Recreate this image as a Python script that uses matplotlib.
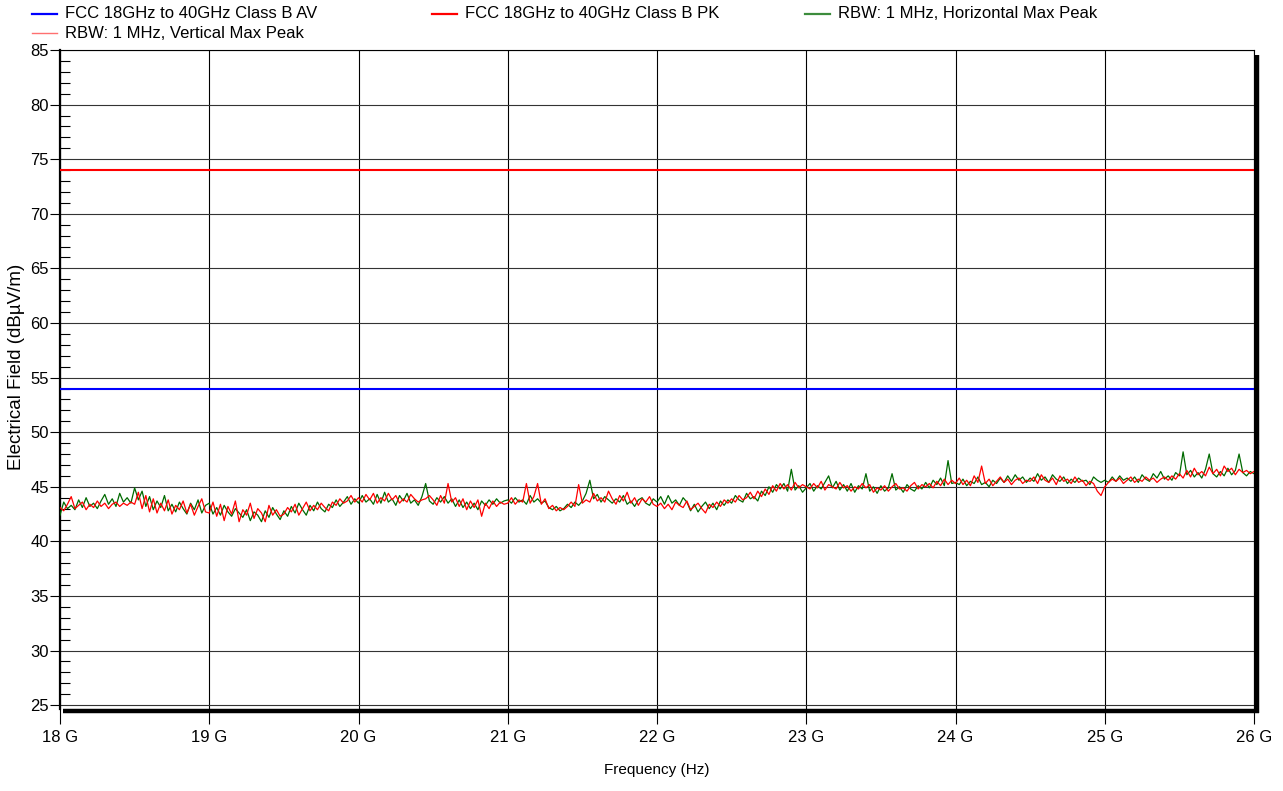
import numpy as np
import matplotlib
matplotlib.use("Agg")
import matplotlib.pyplot as plt
from matplotlib.lines import Line2D
from matplotlib.ticker import MultipleLocator, FuncFormatter

plt.rcParams["font.family"] = ["Liberation Sans", "DejaVu Sans"]

# Sweep: 18 GHz to 26 GHz, one reading every 25 MHz
freq_start_ghz = 18.0
freq_step_ghz = 0.025

# Limits (dBuV/m)
limit_av = 54.0
limit_pk = 74.0

# Measured max-peak traces (dBuV/m)
horizontal_peak = [
    42.4, 43.6, 43.0, 43.3, 42.9, 43.8, 43.1, 44.0, 43.2, 43.5, 43.0, 43.7, 44.3, 43.4, 43.9, 43.2, 44.4, 43.6, 44.0, 43.5,
    44.9, 43.8, 44.6, 43.2, 44.1, 42.9, 43.7, 43.1, 44.2, 42.8, 43.4, 42.7, 43.6, 43.0, 42.5, 43.5, 42.9, 43.8, 42.6, 43.3,
    43.5, 42.5, 43.1, 42.4, 43.3, 42.7, 42.3, 43.0, 42.6, 42.2, 42.9, 41.9, 42.7, 42.4, 41.8, 42.8, 42.2, 43.1, 42.5, 42.0,
    42.8, 42.3, 43.2, 42.6, 43.5, 42.9, 42.4, 43.3, 42.8, 43.6, 43.0, 42.7, 43.4, 43.1, 43.8, 43.2, 43.6, 44.1, 43.4, 43.9,
    43.5, 44.2, 43.6, 43.9, 43.4, 44.3, 43.5, 44.5, 43.6, 43.9, 43.3, 44.2, 43.7, 44.4, 43.5, 43.8, 43.3, 44.1, 45.3, 43.7,
    43.4, 44.0, 43.6, 44.1, 43.5, 43.9, 43.2, 43.8, 43.1, 43.6, 43.0, 43.5, 42.9, 43.7, 43.3, 43.8, 43.4, 43.9, 43.5, 43.7,
    43.8, 43.5, 44.0, 43.6, 43.8, 43.4, 44.2, 43.6, 43.9, 43.5, 43.7, 43.1, 42.9, 43.2, 42.8, 43.0, 43.4, 43.1, 43.6, 43.3,
    43.7, 44.4, 45.6, 43.9, 44.3, 43.6, 44.1, 43.8, 43.5, 43.9, 43.6, 44.2, 43.4, 43.7, 43.2, 43.8, 44.0, 43.5, 43.3, 43.9,
    43.6, 44.1, 43.4, 44.2, 43.5, 43.8, 43.3, 44.0, 43.6, 42.8, 43.4, 42.7, 43.2, 43.6, 43.0, 43.5, 42.9, 43.7, 43.3, 43.8,
    43.5, 44.2, 43.8, 43.6, 44.4, 43.9, 44.1, 43.7, 44.6, 44.2, 45.0, 44.5, 45.2, 44.8, 45.3, 44.6, 46.6, 44.7, 45.1, 44.5,
    44.9, 45.3, 44.6, 45.1, 44.8, 45.4, 46.0, 44.9, 45.5, 44.7, 45.2, 44.6, 45.3, 44.5, 45.1, 44.8, 46.2, 44.6, 45.0, 44.4,
    45.1, 44.6, 44.9, 46.2, 44.7, 45.0, 44.5, 45.2, 44.8, 44.6, 45.1, 44.8, 45.4, 44.9, 45.6, 45.2, 45.8, 45.1, 47.4, 45.3,
    45.4, 45.2, 45.7, 45.1, 45.5, 45.3, 45.9, 45.2, 45.4, 45.0, 45.6, 45.3, 45.8, 45.4, 46.0, 45.5, 46.1, 45.6, 45.9, 45.4,
    45.8, 45.5, 46.2, 45.6, 45.9, 45.4, 46.1, 45.7, 45.5, 45.9, 45.3, 45.7, 45.4, 45.8, 45.5, 45.6, 45.2, 45.9, 45.6, 45.4,
    45.6, 45.4, 45.9, 45.5, 46.0, 45.6, 45.8, 45.5, 45.9, 45.4, 46.1, 45.7, 45.5, 46.2, 45.8, 46.4, 45.7, 46.0, 45.6, 46.3,
    46.0, 48.2, 46.1, 46.5, 45.9, 46.3, 45.8, 46.6, 48.0, 46.2, 45.9, 46.4, 46.0, 46.7, 46.1, 46.5, 48.0, 46.3, 46.0, 46.4,
    46.2,
]

vertical_peak = [
    43.1, 42.8, 43.4, 44.1, 43.0, 43.3, 43.6, 42.9, 43.4, 43.1, 43.7, 43.2, 43.5, 43.0, 43.4, 43.6, 43.2, 43.5, 43.3, 43.6,
    43.4, 44.5, 43.0, 44.2, 42.7, 43.9, 42.6, 43.5, 42.8, 43.8, 42.5, 43.3, 42.9, 43.7, 42.6, 43.4, 42.4, 43.2, 43.9, 42.7,
    42.6, 43.6, 42.3, 43.4, 41.9, 43.2, 42.5, 43.7, 41.8, 42.9, 42.4, 43.5, 42.1, 43.0, 42.6, 41.8, 43.3, 42.4, 42.9, 42.3,
    42.5, 43.1, 42.7, 43.4, 42.4, 43.0, 43.6, 42.8, 43.3, 42.9, 43.5, 43.1, 42.8, 43.6, 43.3, 43.9, 43.5, 43.7, 44.2, 43.6,
    44.0, 43.6, 44.3, 43.8, 44.4, 43.5, 44.0, 43.7, 44.4, 43.8, 44.2, 43.5, 43.9, 43.6, 44.3, 43.9, 43.6, 43.8, 43.9, 44.2,
    43.8, 43.3, 44.2, 43.5, 45.3, 43.6, 44.0, 43.2, 43.9, 42.9, 43.7, 43.1, 43.8, 42.3, 43.5, 43.0, 43.7, 43.2, 43.6, 43.4,
    43.5, 44.0, 43.4, 43.8, 43.6, 45.3, 43.5, 44.1, 45.3, 43.4, 43.9, 43.0, 43.3, 42.8, 43.1, 42.9, 43.2, 43.6, 43.2, 45.2,
    43.5, 43.8, 43.6, 44.4, 43.7, 44.0, 43.6, 44.6, 43.9, 43.4, 44.2, 43.7, 44.5, 43.5, 44.0, 43.3, 43.9, 43.6, 44.1, 43.4,
    43.2, 43.5, 43.0, 43.4, 42.9, 43.6, 43.3, 43.1, 43.7, 42.9, 43.2, 43.5, 43.0, 42.6, 43.4, 43.1, 43.6, 43.2, 43.8, 43.5,
    43.9, 43.6, 44.2, 43.8, 44.0, 44.5, 43.9, 44.6, 44.1, 44.8, 44.3, 45.1, 44.6, 45.3, 44.8, 45.2, 44.7, 45.4, 44.9, 45.2,
    45.0, 44.8, 45.3, 44.9, 45.5, 44.7, 45.2, 45.0, 44.8, 45.4, 44.9, 45.1, 44.6, 45.0, 44.8, 45.3, 44.9, 45.2, 44.5, 44.9,
    44.7, 45.1, 44.6, 45.0, 45.3, 44.8, 44.9, 44.6, 45.1, 45.4, 44.8, 45.2, 45.0, 45.3, 44.9, 45.5, 45.1, 45.7, 45.2, 45.6,
    45.3, 45.8, 45.2, 45.6, 45.1, 46.0, 45.4, 46.9, 45.3, 45.7, 45.1, 45.5, 45.9, 45.4, 45.7, 45.2, 45.6, 45.8, 45.3, 45.6,
    45.5, 45.9, 45.3, 46.1, 45.6, 45.4, 45.8, 45.2, 46.0, 45.5, 45.7, 45.3, 45.9, 45.4, 45.6, 45.1, 45.5, 45.3, 44.6, 44.2,
    45.0, 45.4, 45.7, 45.5, 45.8, 45.3, 45.6, 45.9, 45.4, 45.7, 45.5, 45.9, 45.6, 45.8, 45.4, 45.7, 45.9, 45.6, 46.0, 45.7,
    46.2, 45.8, 46.5, 45.9, 46.7, 46.1, 46.4, 46.0, 46.8, 46.2, 46.6, 46.0, 46.9, 46.4, 46.7, 46.1, 46.6, 46.3, 46.5, 46.2,
    46.4,
]

legend_labels = [
    "FCC 18GHz to 40GHz Class B AV",
    "FCC 18GHz to 40GHz Class B PK",
    "RBW: 1 MHz, Horizontal Max Peak",
    "RBW: 1 MHz, Vertical Max Peak",
]
legend_colors = ["#0000ff", "#ff0000", "#3c8c3c", "#ff7070"]

x_ticks_ghz = [18, 19, 20, 21, 22, 23, 24, 25, 26]
y_ticks = [25, 30, 35, 40, 45, 50, 55, 60, 65, 70, 75, 80, 85]

freq_hz = (freq_start_ghz + freq_step_ghz * np.arange(len(horizontal_peak))) * 1e9

W, H = 1283, 791
fig = plt.figure(figsize=(W / 100, H / 100), dpi=100)
ax = fig.add_axes([60 / W, 1 - 709 / H, 1194 / W, 659 / H])

ax.set_xlim(18e9, 26e9)
ax.set_ylim(24.65, 85)

# grid
for g in x_ticks_ghz:
    ax.axvline(g * 1e9, color="black", lw=0.8, zorder=1)
for yv in y_ticks:
    ax.axhline(yv, color="#333333", lw=0.8, zorder=1)

ax.axhline(limit_av, color=legend_colors[0], lw=1.5, zorder=3)
ax.axhline(limit_pk, color=legend_colors[1], lw=1.5, zorder=3)
ax.plot(freq_hz, horizontal_peak, color="#006a00", lw=0.9, zorder=4)
ax.plot(freq_hz, vertical_peak, color="#ff0000", lw=0.9, zorder=5)

ax.set_xticks([g * 1e9 for g in x_ticks_ghz])
ax.xaxis.set_major_formatter(FuncFormatter(lambda v, p: f"{v / 1e9:.0f} G"))
ax.set_yticks(y_ticks)
ax.yaxis.set_minor_locator(MultipleLocator(1))
ax.tick_params(axis="x", which="major", direction="out", length=11, width=0.8,
               labelsize=12, pad=4, colors="black")
ax.tick_params(axis="y", which="major", direction="out", length=7, width=0.8,
               labelsize=12, pad=1)
ax.tick_params(axis="y", which="minor", direction="in", length=7, width=0.8)

for s in ["top", "right"]:
    ax.spines[s].set_linewidth(0.8)
ax.spines["left"].set_linewidth(1.6)
ax.spines["bottom"].set_visible(False)

# drop-shadow frame on the bottom and right edges
fig.add_artist(Line2D([63 / W, 1259 / W], [1 - 711 / H, 1 - 711 / H],
                      transform=fig.transFigure, color="black", lw=3.2,
                      solid_capstyle="butt"))
fig.add_artist(Line2D([1257 / W, 1257 / W], [1 - 55 / H, 1 - 713 / H],
                      transform=fig.transFigure, color="black", lw=3.2,
                      solid_capstyle="butt"))

fig.text(657 / W, 1 - 770 / H, "Frequency (Hz)", fontsize=11,
         ha="center", va="center")
fig.text(17 / W, 1 - 367 / H, "Electrical Field (dBµV/m)", fontsize=13.5,
         rotation=90, ha="center", va="center")

# legend rows across the top of the figure
legend_slots = [(65, 14), (465, 14), (838, 14), (65, 33)]
for (tx, ty), label, color in zip(legend_slots, legend_labels, legend_colors):
    lw = 1.0 if label.endswith("Vertical Max Peak") else 1.6
    fig.add_artist(Line2D([(tx - 33) / W, (tx - 8) / W], [1 - ty / H, 1 - ty / H],
                          transform=fig.transFigure, color=color, lw=lw))
    fig.text(tx / W, 1 - ty / H, label, fontsize=12, ha="left", va="center")

fig.savefig("out.png", dpi=100)
